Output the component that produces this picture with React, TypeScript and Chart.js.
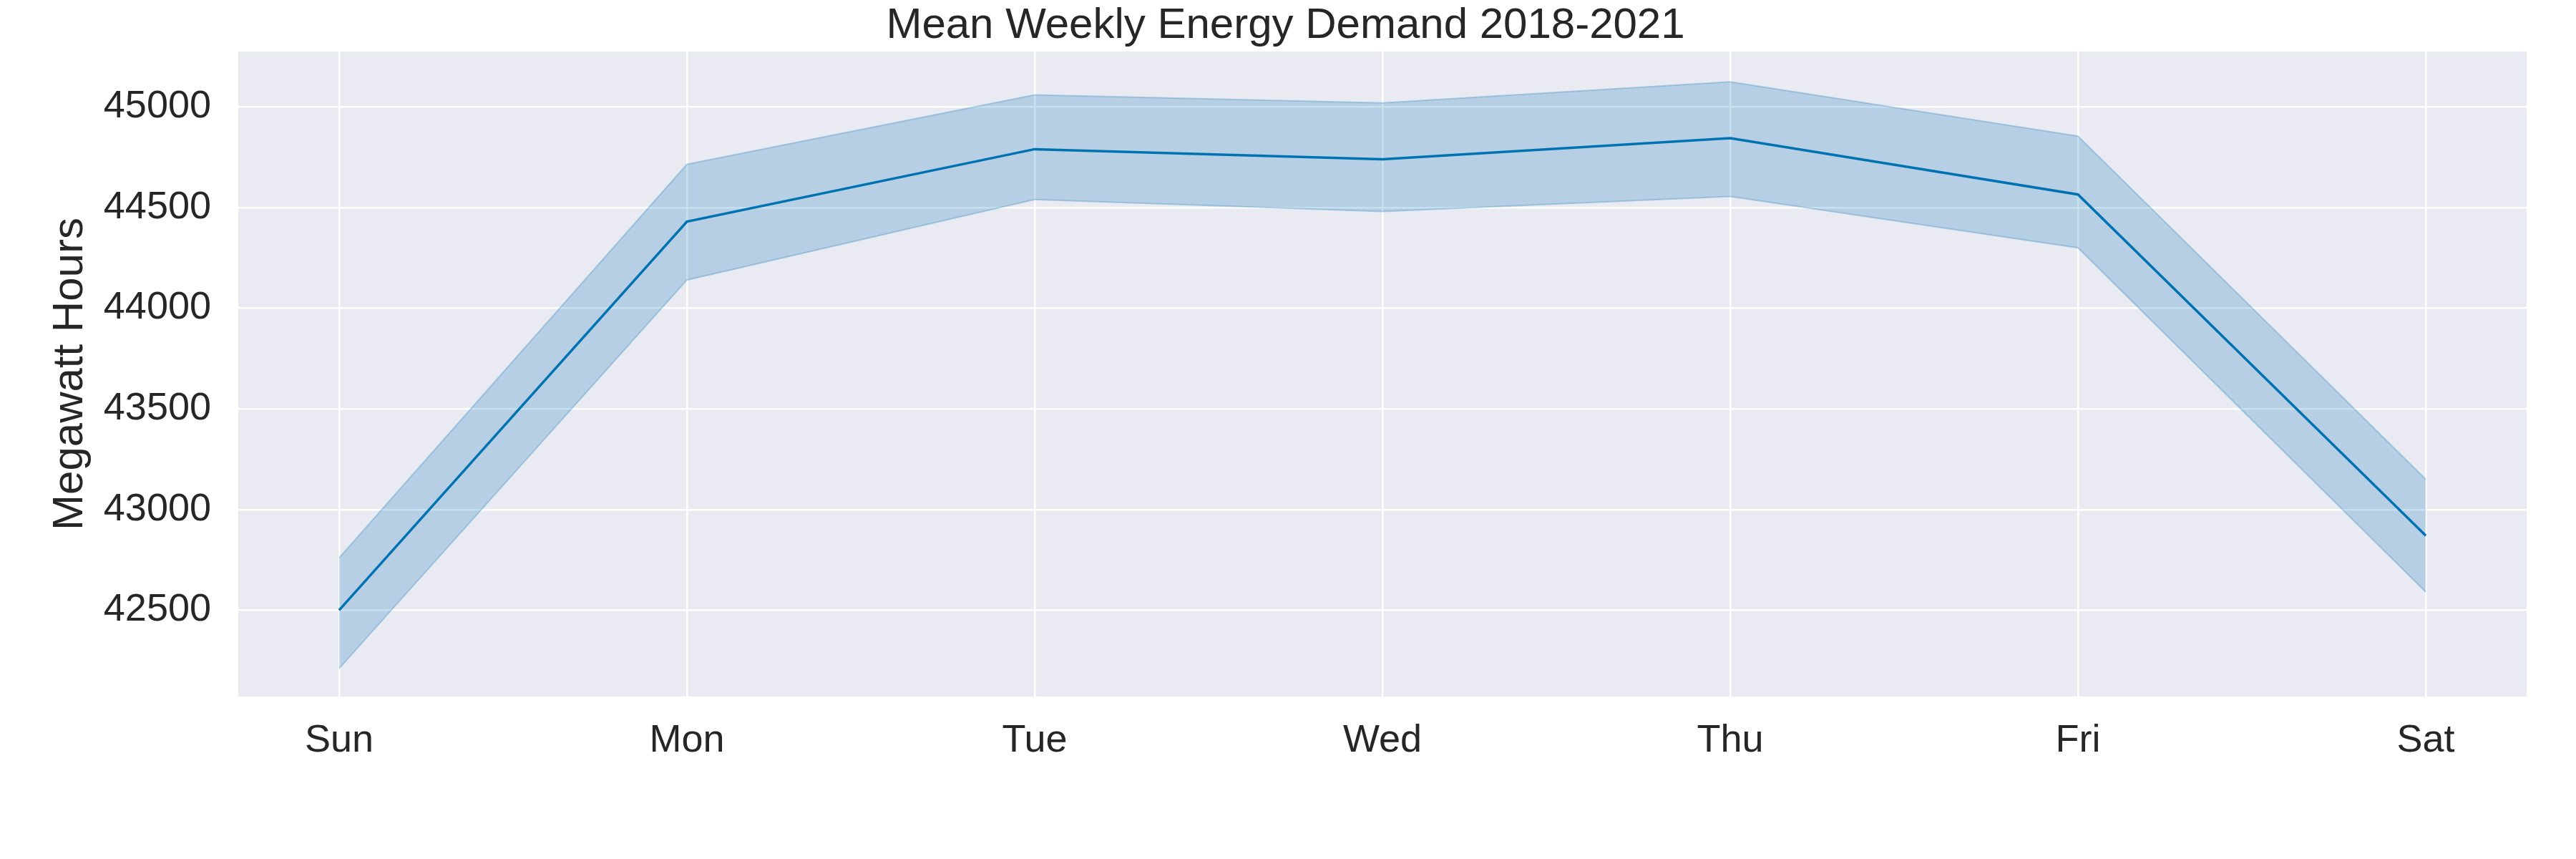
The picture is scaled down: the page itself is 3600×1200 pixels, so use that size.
import React, { useEffect, useRef } from "react";
import Chart from "chart.js/auto";

const days = ["Sun", "Mon", "Tue", "Wed", "Thu", "Fri", "Sat"];
const meanDemand = [42500, 44430, 44790, 44740, 44845, 44565, 42870];
const upperBand = [42760, 44715, 45060, 45020, 45125, 44855, 43150];
const lowerBand = [42210, 44140, 44540, 44480, 44555, 44300, 42590];
const yTicks = [42500, 43000, 43500, 44000, 44500, 45000];

const LINE = "#0173b2";
const TEXT = "#262626";
const FONT = "'Liberation Sans', Arial, sans-serif";

const plotBg = {
  id: "plotBg",
  beforeDraw(chart: any) {
    const { ctx, chartArea } = chart;
    ctx.save();
    ctx.fillStyle = "#eaeaf2";
    ctx.fillRect(chartArea.left, chartArea.top, chartArea.width, chartArea.height);
    ctx.restore();
  },
};

export default function App() {
  const canvasRef = useRef<HTMLCanvasElement>(null);

  useEffect(() => {
    if (!canvasRef.current) return;
    const pts = (arr: number[]) => arr.map((y, i) => ({ x: i, y }));
    const chart = new Chart(canvasRef.current, {
      type: "line",
      data: {
        datasets: [
          {
            data: pts(upperBand),
            borderColor: "rgba(1,115,178,0.25)",
            borderWidth: 2,
            backgroundColor: "rgba(1,115,178,0.22)",
            pointRadius: 0,
            fill: "+1",
          },
          {
            data: pts(lowerBand),
            borderColor: "rgba(1,115,178,0.25)",
            borderWidth: 2,
            pointRadius: 0,
            fill: false,
          },
          {
            data: pts(meanDemand),
            borderColor: LINE,
            borderWidth: 3.5,
            pointRadius: 0,
            fill: false,
          },
        ],
      },
      options: {
        responsive: false,
        animation: false,
        layout: { padding: { left: 62, right: 69, top: 0, bottom: 0 } },
        plugins: {
          legend: { display: false },
          tooltip: { enabled: false },
          title: {
            display: true,
            text: "Mean Weekly Energy Demand 2018-2021",
            color: TEXT,
            font: { family: FONT, size: 60, weight: "normal" },
            padding: { top: 0, bottom: 0 },
          },
        },
        scales: {
          x: {
            type: "linear",
            min: -0.29,
            max: 6.29,
            afterBuildTicks: (s: any) => {
              s.ticks = days.map((_, i) => ({ value: i }));
            },
            afterFit: (s: any) => {
              s.height = 227;
            },
            ticks: {
              callback: (v: any) => days[v] ?? "",
              color: TEXT,
              font: { family: FONT, size: 54 },
              padding: 30,
              maxRotation: 0,
            },
            grid: { color: "#ffffff", lineWidth: 2.5, drawTicks: false },
            border: { display: false },
          },
          y: {
            min: 42071,
            max: 45275,
            afterBuildTicks: (s: any) => {
              s.ticks = yTicks.map((value) => ({ value }));
            },
            afterFit: (s: any) => {
              s.width = 271;
            },
            ticks: {
              callback: (v: any) => String(v),
              color: TEXT,
              font: { family: FONT, size: 54 },
              padding: 38,
            },
            title: {
              display: true,
              text: "Megawatt Hours",
              color: TEXT,
              font: { family: FONT, size: 60 },
              padding: { top: 0, bottom: 0 },
            },
            grid: { color: "#ffffff", lineWidth: 2.5, drawTicks: false },
            border: { display: false },
          },
        },
      },
      plugins: [plotBg],
    });
    return () => chart.destroy();
  }, []);

  return (
    <div style={{ width: 3600, height: 1200, background: "#fff", margin: -8 }}>
      <canvas ref={canvasRef} width={3600} height={1200} />
    </div>
  );
}
